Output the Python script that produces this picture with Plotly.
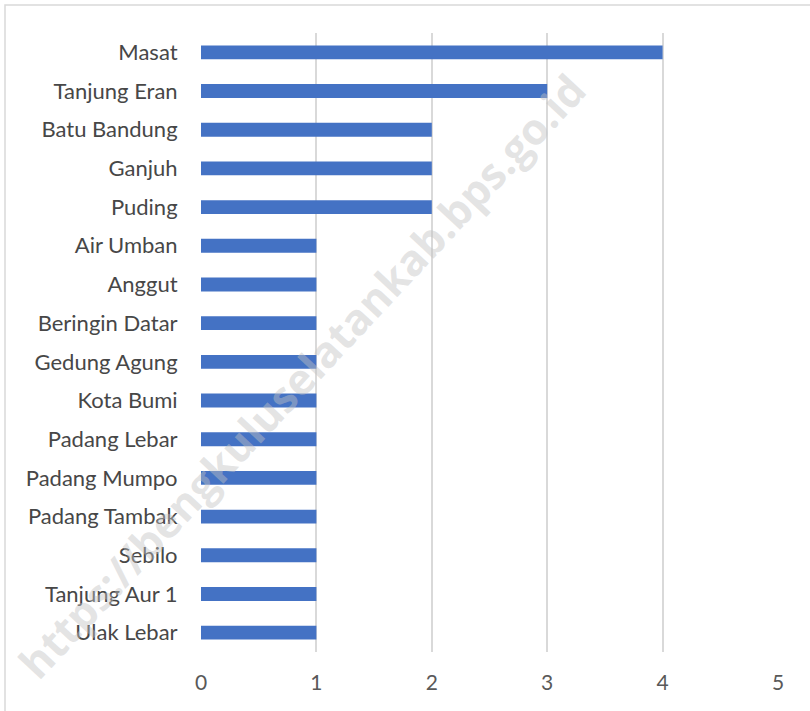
import plotly.graph_objects as go

desa = ["Masat", "Tanjung Eran", "Batu Bandung", "Ganjuh", "Puding", "Air Umban",
        "Anggut", "Beringin Datar", "Gedung Agung", "Kota Bumi", "Padang Lebar",
        "Padang Mumpo", "Padang Tambak", "Sebilo", "Tanjung Aur 1", "Ulak Lebar"]
jumlah = [4, 3, 2, 2, 2, 1, 1, 1, 1, 1, 1, 1, 1, 1, 1, 1]
x_ticks = [0, 1, 2, 3, 4, 5]

W, H = 810, 711
L, R, T, B = 201, 32, 33, 59
PW, PH = W - L - R, H - T - B

fig = go.Figure(go.Bar(
    x=jumlah, y=desa, orientation="h",
    marker=dict(color="#4472C4", line=dict(width=0)),
    width=0.36,
))

fig.update_layout(
    width=W, height=H,
    margin=dict(l=L, r=R, t=T, b=B),
    paper_bgcolor="white", plot_bgcolor="white",
    showlegend=False,
    font=dict(family="Lato", color="#595959"),
    xaxis=dict(range=[0, 5], tickvals=x_ticks, showgrid=True, gridcolor="#D9D9D9",
               gridwidth=1.5, zeroline=False, showline=False,
               tickfont=dict(size=21, color="#595959"), ticks="outside",
               ticklen=12, tickcolor="rgba(0,0,0,0)"),
    yaxis=dict(autorange="reversed", showgrid=False, zeroline=False,
               showline=False, tickfont=dict(size=22, color="#474747"),
               ticks="outside", ticklen=18, tickcolor="rgba(0,0,0,0)"),
    shapes=[dict(type="rect", xref="paper", yref="paper",
                 x0=-(L - 5) / PW, x1=1.2, y0=-0.2, y1=1 + (T - 5) / PH,
                 line=dict(color="#D9D9D9", width=1.5), fillcolor="rgba(0,0,0,0)",
                 layer="below")],
    annotations=[dict(text="<b>https://bengkuluselatankab.bps.go.id</b>",
                      xref="paper", yref="paper", x=(302 - L) / PW,
                      y=(H - B - 376) / PH, xanchor="center", yanchor="middle",
                      showarrow=False, textangle=-47,
                      font=dict(size=43, family="Open Sans",
                                color="rgba(195,195,195,0.45)"))],
)

fig.write_html("out.html", post_script="document.body.style.margin='0';",
               config={"displayModeBar": False})
